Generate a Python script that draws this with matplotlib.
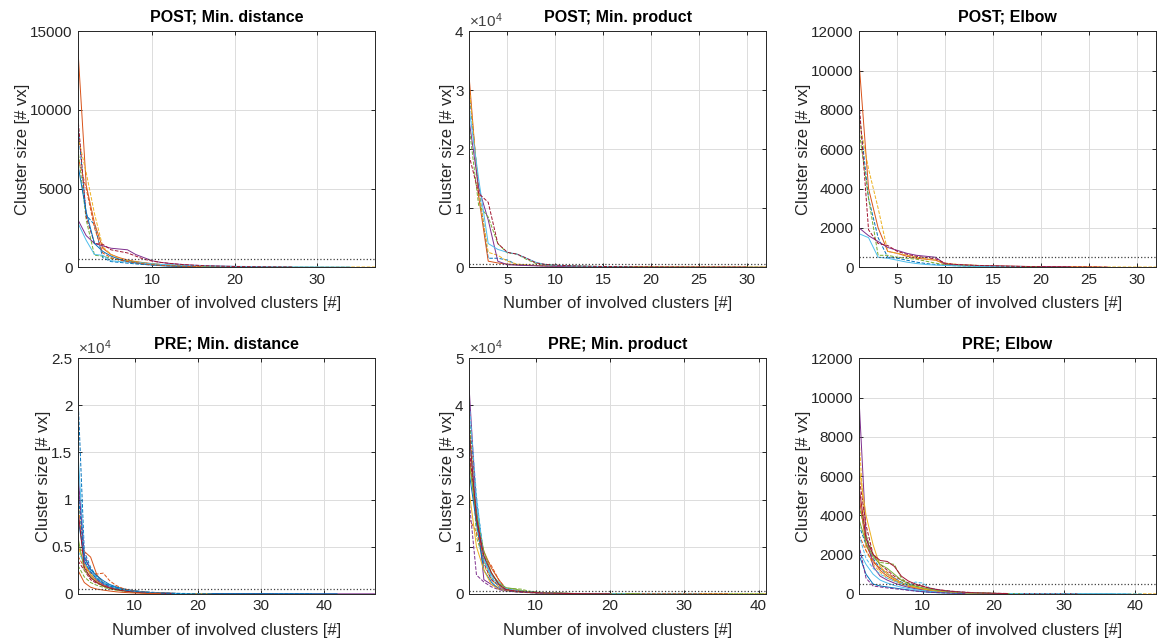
import matplotlib
matplotlib.use("Agg")
import matplotlib.pyplot as plt

plt.rcParams['font.family'] = ['Liberation Sans', 'DejaVu Sans']
plt.rcParams['mathtext.default'] = 'regular'

# MATLAB default line colours
colors = ['#0072BD', '#D95319', '#EDB120', '#7E2F8E', '#77AC30', '#4DBEEE', '#A2142F']

THRESHOLD = 500

# POST; Min. distance
post_min_distance = [
    [9000, 3300, 2700, 600, 350, 300, 250, 200, 160, 130, 100, 80, 65, 50, 40, 30, 22, 15, 10, 6],
    [13800, 5200, 2800, 1200, 800, 600, 450, 350, 280, 220, 170, 130, 100, 80, 60, 45, 35, 25, 18, 12, 8, 5],
    [8300, 6000, 3400, 1300, 800, 550, 420, 330, 250, 190, 150, 120, 100, 85, 72, 62, 54, 47, 41, 36, 32, 28,
     25, 22, 19, 17, 15, 13, 11, 10, 9, 8, 7, 6, 5, 4, 3],
    [3000, 2000, 1500, 1350, 1200, 1150, 1100, 800, 600, 400, 300, 240, 190, 150, 120, 100, 80, 65, 50, 40, 30, 22, 15],
    [7500, 3000, 750, 700, 550, 450, 380, 320, 260, 200, 160, 130, 100, 80, 60, 45, 35, 25, 18, 12, 8, 5, 3],
    [2800, 1700, 800, 750, 400, 350, 320, 290, 250, 200, 170, 150, 130, 110, 95, 80, 70, 60, 52, 45, 40, 35, 30,
     26, 22, 19, 16, 14, 12, 10, 8, 6, 5, 4],
    [9500, 3200, 1500, 1450, 1100, 1000, 900, 700, 500, 380, 300, 240, 190, 150, 120, 95, 75, 60, 48, 38, 30, 24,
     18, 14, 10, 7, 5],
    [6500, 3500, 1500, 1000, 700, 500, 350, 250, 180, 130, 90, 60, 40, 25, 15],
    [7000, 5000, 2500, 900, 600, 450, 350, 280, 200, 150, 110, 80, 60, 45, 30, 20],
]

# POST; Min. product
post_min_product = [
    [30000, 13500, 1500, 1500, 1200, 400, 300, 250, 200, 150, 120, 100, 80, 60, 45, 30, 20, 12],
    [32500, 12000, 1000, 700, 500, 400, 320, 260, 200, 160, 130, 100, 80, 65, 50, 40, 32, 25, 20, 16, 12, 10,
     8, 6, 5, 4, 3, 3, 2, 2, 1, 1],
    [31000, 13000, 2500, 2000, 1000, 500, 380, 300, 240, 190, 150, 120, 95, 75, 60, 45, 35, 25],
    [25000, 13500, 8000, 1000, 400, 320, 260, 210, 170, 140, 110, 90, 70, 55, 40, 30, 20],
    [24000, 10500, 8500, 4000, 2400, 2200, 1300, 600, 400, 300, 240, 190, 150, 120, 95, 75, 60, 48, 38, 30, 24,
     19, 15, 12, 10, 8, 6, 5, 4, 3, 2, 1],
    [27000, 15000, 4000, 3000, 2500, 2200, 1500, 800, 400, 300, 240, 190, 150, 110, 80, 60, 45, 30],
    [19000, 12500, 11000, 4000, 2500, 2200, 1500, 700, 450, 330, 260, 200, 160, 125, 100, 80, 64, 50, 40, 32,
     25, 20, 16, 13, 10, 8, 6, 5, 4, 3],
]

# POST; Elbow
post_elbow = [
    [8000, 3500, 1500, 500, 450, 350, 250, 180, 130, 90, 70, 55, 45, 35, 28, 22, 17, 13, 10],
    [10500, 4000, 2000, 800, 700, 550, 450, 400, 350, 150, 120, 100, 85, 70, 58, 48, 40, 33, 27, 22, 18, 14,
     11, 9, 7, 5],
    [7500, 5000, 3000, 800, 700, 600, 500, 420, 350, 200, 150, 120, 95, 75, 60, 48, 38, 30, 24, 19, 15, 12,
     10, 8, 7, 6, 5, 4, 3, 3, 2, 2],
    [2000, 1600, 1300, 1000, 850, 700, 600, 550, 500, 150, 120, 100, 85, 70, 60, 50, 42, 35, 28, 22, 17, 13, 10],
    [7000, 3500, 600, 600, 500, 450, 400, 300, 200, 120, 90, 70, 55, 45, 36, 28, 22, 17, 13, 10],
    [1700, 1500, 500, 450, 350, 250, 180, 130, 100, 80, 65, 52, 42, 34, 27, 21, 16, 12],
    [8500, 1900, 1200, 1100, 800, 650, 550, 480, 420, 200, 140, 110, 90, 75, 62, 50, 40, 32, 25, 20, 16, 13,
     10, 8, 6, 5, 4],
]

# PRE; Min. distance
pre_min_distance = [
    [21000, 4500, 2800, 1800, 1200, 900, 700, 550, 420, 330, 260, 200, 160, 120, 90, 70, 55, 42, 32, 24, 18, 13, 10],
    [4800, 4500, 3900, 2000, 1200, 800, 600, 450, 350, 270, 200, 150, 110, 80, 60, 45, 34, 25, 18, 13],
    [10000, 3000, 2200, 1500, 1100, 800, 600, 450, 340, 260, 200, 150, 110, 85, 65, 50, 38, 28, 20, 15, 11, 8, 6, 4],
    [13000, 3500, 2000, 1400, 1000, 750, 560, 420, 320, 240, 180, 140, 105, 80, 62, 48, 37, 29, 22, 17, 13, 10,
     8, 6, 5, 4, 3, 3, 2, 2, 2, 1, 1, 1, 1, 1, 1, 1, 1, 1, 1, 1, 1, 1, 1, 1, 1, 1],
    [3000, 1800, 1200, 900, 700, 520, 400, 300, 220, 165, 120, 90, 66, 48, 35, 26],
    [15000, 4000, 2600, 1700, 1200, 850, 620, 460, 340, 250, 185, 140, 100, 75, 55, 40, 30, 22, 16, 12, 9, 7],
    [3500, 2500, 1500, 1100, 900, 700, 550, 420, 320, 240, 180, 130, 95, 70, 52, 38, 28, 20, 15, 11, 8, 6, 5,
     4, 3, 3, 2, 2, 2, 1, 1, 1],
    [8000, 3800, 2600, 1900, 1400, 1000, 750, 560, 420, 310, 230, 170, 125, 90, 68, 50, 37, 27, 20, 15, 11, 8,
     6, 5, 4, 3, 3, 2, 2, 2, 1, 1, 1, 1, 1, 1, 1, 1, 1, 1, 1, 1],
    [4000, 2800, 2200, 2100, 2200, 1400, 900, 600, 420, 300, 220, 160, 120, 90, 65, 48, 35, 25, 18, 13, 9],
    [5000, 3200, 2000, 1300, 900, 650, 480, 360, 270, 200, 150, 110, 80, 60, 45, 33, 24, 18, 13, 10, 7, 5],
    [12000, 4200, 2400, 1500, 1000, 700, 500, 370, 270, 200, 150, 110, 80, 58, 42, 31, 23],
    [6000, 2500, 1800, 1200, 800, 600, 450, 330, 240, 180, 130, 95, 70, 50, 36, 26, 19, 14],
    [4500, 3300, 2400, 1600, 1100, 800, 600, 440, 330, 245, 180, 135, 100, 74, 55, 40, 30, 22, 16],
    [9000, 2800, 1700, 1200, 850, 620, 460, 340, 250, 185, 135, 100, 74, 54, 40, 30],
    [11000, 3500, 2300, 1600, 1150, 850, 630, 470, 350, 260, 195, 145, 108, 80, 60, 45, 34, 25, 19, 14, 10, 8,
     6, 4, 3, 3, 2, 2, 2, 1, 1, 1, 1, 1, 1, 1, 1, 1],
    [2500, 1200, 700, 500, 400, 300, 220, 160, 120, 90, 66, 48, 35, 25],
]

# PRE; Min. product
pre_min_product = [
    [38000, 20000, 8000, 3500, 1500, 900, 650, 480, 360, 270, 200, 150, 110, 85, 64, 48, 36, 27, 20, 15, 11],
    [30000, 15000, 9000, 5500, 3000, 1000, 700, 520, 390, 290, 220, 165, 125, 95, 72, 54, 41, 31, 23, 17, 13,
     10, 8, 6],
    [36000, 18500, 6000, 3000, 1500, 1000, 750, 560, 420, 310, 230, 170, 125, 93, 70, 52, 39, 29, 22, 16, 12,
     9, 7, 5, 4, 3, 2, 2, 2, 1, 1, 1, 1, 1, 1, 1, 1, 1, 1, 1, 1],
    [44000, 18000, 3000, 2000, 1200, 800, 600, 450, 340, 260, 200, 150, 115, 88, 67, 51, 39, 30, 23, 17, 13],
    [38000, 12000, 7000, 4000, 2000, 1200, 1100, 1000, 600, 400, 300, 220, 165, 125, 95, 72, 54, 41, 31, 23,
     17, 13, 10, 8, 6, 5, 4, 3, 2, 2, 1, 1, 1, 1, 1, 1, 1, 1, 1, 1, 1],
    [33000, 19000, 7500, 4000, 2500, 1200, 800, 600, 450, 340, 250, 185, 140, 105, 78, 58, 43, 32, 24, 18, 13,
     10, 8, 6, 5, 4, 3, 3, 2, 2, 2, 1],
    [31000, 17000, 6500, 3000, 1800, 1000, 700, 520, 390, 290, 215, 160, 120, 90, 67, 50, 37, 28, 21, 16, 12, 9],
    [26000, 15000, 5000, 2500, 1000, 700, 500, 380, 280, 210, 155, 115, 85, 63, 47, 35, 26, 19],
    [16000, 13000, 8000, 6000, 3000, 1000, 800, 600, 450, 330, 245, 180, 135, 100, 75, 56, 42, 31, 23, 17, 13,
     10, 8, 6, 5, 4, 3, 3, 2, 2, 2, 1, 1, 1, 1, 1],
    [22000, 10000, 5000, 2000, 1000, 700, 500, 370, 270, 200, 150, 110, 80, 60, 44, 32],
    [20000, 4000, 2500, 1500, 900, 600, 450, 330, 250, 185, 135, 100, 74, 54, 40, 30, 22],
    [28000, 17000, 9000, 4500, 2200, 1300, 1100, 700, 480, 350, 260, 190, 140, 105, 78, 58, 43, 32, 24, 18,
     13, 10, 8, 6],
    [41000, 21000, 7000, 3500, 1800, 1100, 780, 570, 420, 310, 230, 170, 126, 93, 69, 51, 38, 28, 21, 15, 11, 8],
    [35000, 16000, 8000, 4500, 2000, 900, 650, 480, 360, 270, 200, 150, 112, 84, 63, 47, 35, 26, 20, 15],
]

# PRE; Elbow
pre_elbow = [
    [3500, 2500, 1800, 1300, 1000, 800, 600, 450, 330, 250, 200, 160, 125, 98, 77, 60, 47, 37, 29, 23, 18, 14,
     11, 9, 7, 5, 4, 3, 3, 2, 2, 2, 1, 1, 1, 1, 1],
    [5000, 2500, 1700, 1200, 900, 700, 520, 400, 310, 240, 185, 145, 113, 88, 69, 54, 42, 33, 26, 20, 16, 12,
     10, 8, 6, 5, 4],
    [8000, 2200, 1500, 1100, 800, 650, 500, 380, 290, 220, 170, 130, 100, 78, 60, 47, 36, 28, 22, 17, 13, 10,
     8, 6, 5, 4, 3, 3, 2, 2, 2, 1, 1, 1, 1, 1, 1, 1, 1, 1, 1, 1, 1],
    [10000, 3000, 1400, 900, 700, 550, 430, 330, 260, 200, 160, 125, 98, 77, 60, 47, 37, 29, 23, 18, 14, 11],
    [4500, 3000, 2000, 1600, 1550, 1500, 800, 500, 380, 290, 220, 170, 130, 100, 78, 60, 47, 36, 28, 22, 17,
     13, 10, 8],
    [2200, 1500, 1000, 700, 550, 430, 340, 270, 210, 165, 130, 100, 80, 62, 48, 38, 30, 23, 18, 14, 11, 9, 7,
     5, 4, 3, 3, 2, 2, 2, 1, 1, 1, 1, 1, 1, 1, 1, 1],
    [6000, 3500, 2000, 1500, 1200, 900, 700, 560, 450, 400, 300, 230, 180, 140, 110, 86, 67, 52, 41, 32, 25,
     20, 16, 12, 10, 8, 6, 5, 4, 3, 3, 2],
    [2000, 1000, 500, 400, 350, 300, 250, 200, 150, 110, 80, 60, 45, 34, 25, 19],
    [3000, 2200, 1600, 1300, 1100, 800, 550, 420, 320, 250, 195, 150, 117, 91, 71, 55, 43, 33, 26, 20],
    [6500, 4000, 2500, 1400, 1000, 750, 560, 430, 330, 255, 197, 152, 117, 90, 70, 54, 42, 32, 25, 19, 15],
    [2500, 800, 400, 350, 300, 260, 220, 180, 140, 110, 85, 66, 51, 40, 31, 24],
    [3800, 2600, 1900, 1500, 1300, 1000, 700, 520, 400, 310, 240, 185, 143, 110, 85, 66, 51, 40, 31, 24, 19,
     15, 12, 9],
    [3000, 1800, 1300, 1000, 800, 650, 520, 420, 600, 550, 300, 220, 165, 125, 95, 72, 55, 42, 32, 24, 18, 14,
     11, 8, 6, 5, 4, 3, 2, 2, 1, 1, 1, 1, 1, 1, 1, 1, 1, 1, 1],
    [5500, 2800, 2000, 1700, 1650, 1400, 900, 650, 500, 380, 290, 220, 170, 130, 100, 77, 59, 45, 35, 27, 21, 16],
]

titles = ['POST; Min. distance', 'POST; Min. product', 'POST; Elbow',
          'PRE; Min. distance', 'PRE; Min. product', 'PRE; Elbow']
panel_data = [post_min_distance, post_min_product, post_elbow,
              pre_min_distance, pre_min_product, pre_elbow]
x_max = [37, 32, 32, 48, 41, 43]
y_max = [15000, 40000, 12000, 25000, 50000, 12000]
y_step = [5000, 10000, 2000, 5000, 10000, 2000]
x_ticks = [[10, 20, 30], [5, 10, 15, 20, 25, 30], [5, 10, 15, 20, 25, 30],
           [10, 20, 30, 40], [10, 20, 30, 40], [10, 20, 30, 40]]
y_scaled = [False, True, False, True, True, False]


def main():
    fig = plt.figure(figsize=(11.57, 6.42), dpi=100)
    lefts = [0.0674, 0.4054, 0.7424]
    bottoms = [0.584, 0.075]
    text_col = '#262626'

    for k in range(6):
        row, col = divmod(k, 3)
        ax = fig.add_axes([lefts[col], bottoms[row], 0.2567, 0.367])

        for i, series in enumerate(panel_data[k]):
            xs = list(range(1, len(series) + 1))
            style = '--' if i % 2 == 0 else '-'
            ax.plot(xs, series, linestyle=style, color=colors[i % len(colors)], linewidth=0.7)

        ax.axhline(THRESHOLD, color='#404040', linestyle=':', linewidth=0.9)

        ax.set_xlim(1, x_max[k])
        ax.set_ylim(0, y_max[k])
        ax.set_xticks(x_ticks[k])
        yt = list(range(0, y_max[k] + 1, y_step[k]))
        ax.set_yticks(yt)
        if y_scaled[k]:
            ax.set_yticklabels(['%g' % (v / 10000) for v in yt])
            ax.text(0.0, 1.005, r'$\times10^{4}$', transform=ax.transAxes,
                    fontsize=11, color='#404040', va='bottom', ha='left')
        else:
            ax.set_yticklabels([str(v) for v in yt])

        ax.grid(True, color='#dcdcdc', linewidth=0.7)
        ax.set_axisbelow(True)
        ax.tick_params(direction='in', top=True, right=True, length=3,
                       labelsize=11, colors=text_col, width=0.7, pad=4)
        for sp in ax.spines.values():
            sp.set_color('#262626')
            sp.set_linewidth(0.7)

        ax.set_title(titles[k], fontsize=11.5, fontweight='bold', pad=7)
        ax.set_xlabel('Number of involved clusters [#]', fontsize=12, color=text_col, labelpad=7)
        ax.set_ylabel('Cluster size [# vx]', fontsize=12, color=text_col, labelpad=0)

    fig.savefig('out.png', dpi=100)


if __name__ == "__main__":
    main()
